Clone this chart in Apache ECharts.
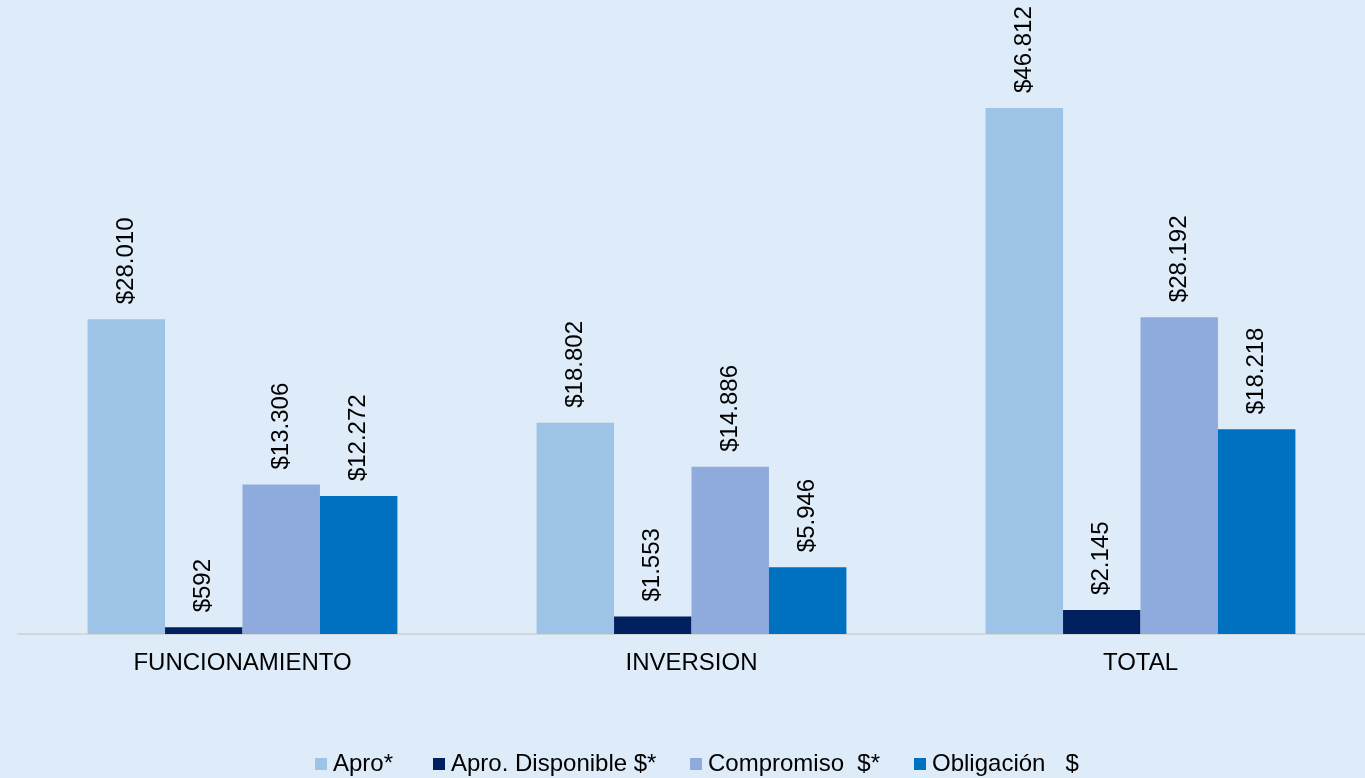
<!DOCTYPE html>
<html>
<head>
<meta charset="utf-8">
<script src="https://cdn.jsdelivr.net/npm/echarts@6/dist/echarts.min.js"></script>
<style>
html,body{margin:0;padding:0;background:#DEEBF8;}
#c{width:1365px;height:778px;}
</style>
</head>
<body>
<div id="c"></div>
<script>
var categories = ['FUNCIONAMIENTO', 'INVERSION', 'TOTAL'];
var seriesNames = ['Apro*', 'Apro. Disponible $*', 'Compromiso  $*', 'Obligación   $'];
var apro = [28010, 18802, 46812];
var aproDisponible = [592, 1553, 2145];
var compromiso = [13306, 14886, 28192];
var obligacion = [12272, 5946, 18218];
var colors = ['#9DC3E6', '#002060', '#8FAADC', '#0070C0'];

function fmt(v) {
  var s = String(Math.round(v));
  return '$' + s.replace(/\B(?=(\d{3})+(?!\d))/g, '.');
}
var values = [apro, aproDisponible, compromiso, obligacion];
var font = 'Liberation Sans, Arial, sans-serif';
var series = values.map(function (d, i) {
  return {
    name: seriesNames[i],
    type: 'bar',
    data: d,
    barGap: '0%',
    barCategoryGap: '31%',
    itemStyle: { color: colors[i] },
    label: {
      show: true,
      position: 'top',
      rotate: 90,
      align: 'left',
      verticalAlign: 'middle',
      distance: 15,
      color: '#000',
      fontSize: 24,
      fontFamily: font,
      formatter: function (p) { return fmt(p.value); }
    }
  };
});

var legendLefts = [315, 433, 690, 914];
var legends = seriesNames.map(function (n, i) {
  return {
    top: 752,
    left: legendLefts[i],
    padding: 0,
    itemWidth: 12,
    itemHeight: 12,
    itemGap: 0,
    icon: 'rect',
    textStyle: { fontSize: 24, color: '#000', fontFamily: font, padding: [0, 0, 0, 1] },
    data: [n]
  };
});

var chart = echarts.init(document.getElementById('c'), null, { renderer: 'canvas' });
chart.setOption({
  backgroundColor: '#DEEBF8',
  animation: false,
  color: colors,
  grid: { left: 18, right: -2, top: 108, bottom: 144, containLabel: false },
  legend: legends,
  xAxis: {
    type: 'category',
    data: categories,
    axisLine: { show: true, lineStyle: { color: '#D0D0D0', width: 1.5 } },
    axisTick: { show: false },
    axisLabel: { color: '#000', fontSize: 24, fontFamily: font, margin: 17 }
  },
  yAxis: {
    type: 'value',
    min: 0,
    max: 46812,
    show: false,
    splitLine: { show: false }
  },
  series: series
});
</script>
</body>
</html>
